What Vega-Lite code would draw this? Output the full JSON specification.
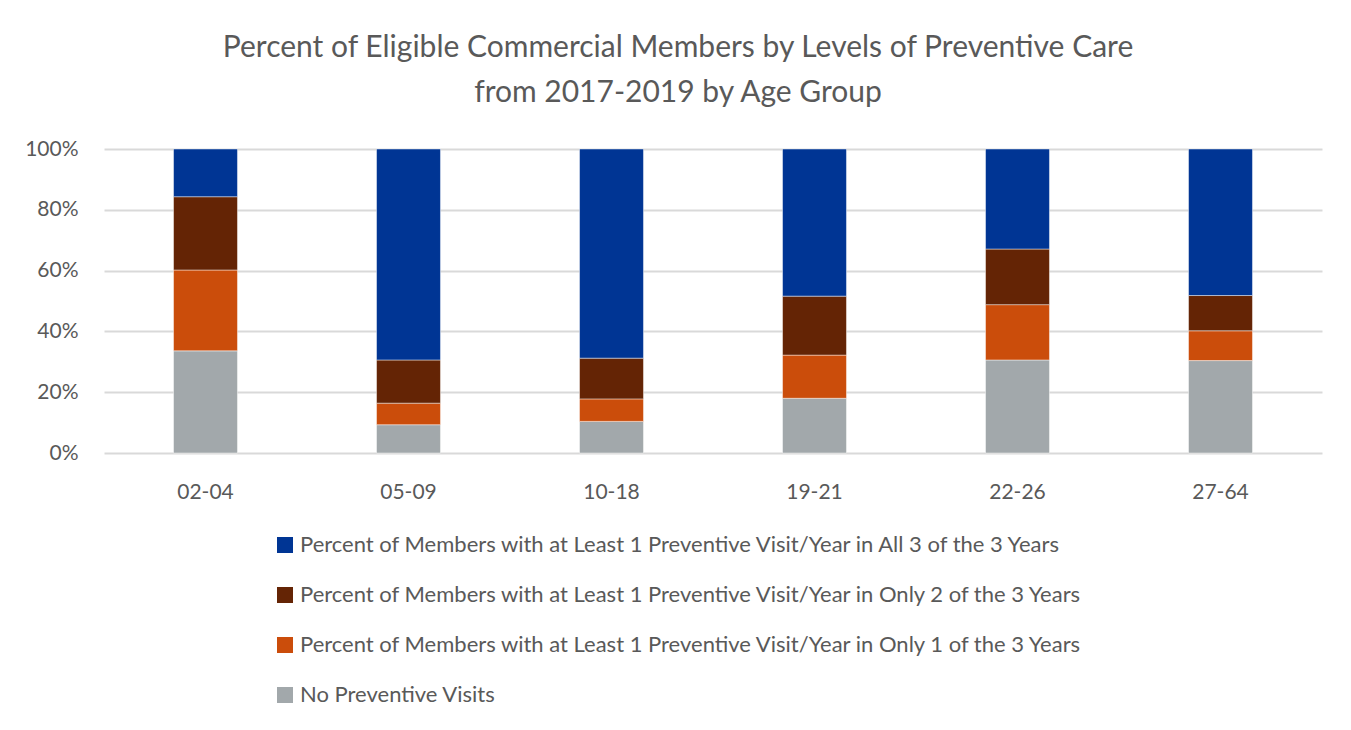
{
  "$schema": "https://vega.github.io/schema/vega-lite/v6.json",
  "width": 1218,
  "height": 304,
  "autosize": "none",
  "padding": {"left": 104, "top": 149, "right": 29, "bottom": 277},
  "background": "white",
  "title": {
    "text": ["Percent of Eligible Commercial Members by Levels of Preventive Care", "from 2017-2019 by Age Group"],
    "font": "Lato",
    "fontSize": 30,
    "fontWeight": "normal",
    "color": "#595959",
    "lineHeight": 45,
    "offset": 30,
    "dx": -35
  },
  "data": {
    "values": [
      {"age": "02-04", "level": "No Preventive Visits", "rank": 1, "pct": 0.336},
      {"age": "02-04", "level": "Percent of Members with at Least 1 Preventive Visit/Year in Only 1 of the 3 Years", "rank": 2, "pct": 0.266},
      {"age": "02-04", "level": "Percent of Members with at Least 1 Preventive Visit/Year in Only 2 of the 3 Years", "rank": 3, "pct": 0.241},
      {"age": "02-04", "level": "Percent of Members with at Least 1 Preventive Visit/Year in All 3 of the 3 Years", "rank": 4, "pct": 0.157},
      {"age": "05-09", "level": "No Preventive Visits", "rank": 1, "pct": 0.093},
      {"age": "05-09", "level": "Percent of Members with at Least 1 Preventive Visit/Year in Only 1 of the 3 Years", "rank": 2, "pct": 0.071},
      {"age": "05-09", "level": "Percent of Members with at Least 1 Preventive Visit/Year in Only 2 of the 3 Years", "rank": 3, "pct": 0.142},
      {"age": "05-09", "level": "Percent of Members with at Least 1 Preventive Visit/Year in All 3 of the 3 Years", "rank": 4, "pct": 0.694},
      {"age": "10-18", "level": "No Preventive Visits", "rank": 1, "pct": 0.104},
      {"age": "10-18", "level": "Percent of Members with at Least 1 Preventive Visit/Year in Only 1 of the 3 Years", "rank": 2, "pct": 0.074},
      {"age": "10-18", "level": "Percent of Members with at Least 1 Preventive Visit/Year in Only 2 of the 3 Years", "rank": 3, "pct": 0.134},
      {"age": "10-18", "level": "Percent of Members with at Least 1 Preventive Visit/Year in All 3 of the 3 Years", "rank": 4, "pct": 0.688},
      {"age": "19-21", "level": "No Preventive Visits", "rank": 1, "pct": 0.180},
      {"age": "19-21", "level": "Percent of Members with at Least 1 Preventive Visit/Year in Only 1 of the 3 Years", "rank": 2, "pct": 0.142},
      {"age": "19-21", "level": "Percent of Members with at Least 1 Preventive Visit/Year in Only 2 of the 3 Years", "rank": 3, "pct": 0.194},
      {"age": "19-21", "level": "Percent of Members with at Least 1 Preventive Visit/Year in All 3 of the 3 Years", "rank": 4, "pct": 0.484},
      {"age": "22-26", "level": "No Preventive Visits", "rank": 1, "pct": 0.306},
      {"age": "22-26", "level": "Percent of Members with at Least 1 Preventive Visit/Year in Only 1 of the 3 Years", "rank": 2, "pct": 0.182},
      {"age": "22-26", "level": "Percent of Members with at Least 1 Preventive Visit/Year in Only 2 of the 3 Years", "rank": 3, "pct": 0.183},
      {"age": "22-26", "level": "Percent of Members with at Least 1 Preventive Visit/Year in All 3 of the 3 Years", "rank": 4, "pct": 0.329},
      {"age": "27-64", "level": "No Preventive Visits", "rank": 1, "pct": 0.304},
      {"age": "27-64", "level": "Percent of Members with at Least 1 Preventive Visit/Year in Only 1 of the 3 Years", "rank": 2, "pct": 0.098},
      {"age": "27-64", "level": "Percent of Members with at Least 1 Preventive Visit/Year in Only 2 of the 3 Years", "rank": 3, "pct": 0.116},
      {"age": "27-64", "level": "Percent of Members with at Least 1 Preventive Visit/Year in All 3 of the 3 Years", "rank": 4, "pct": 0.482}
    ]
  },
  "mark": {"type": "bar", "stroke": "#ffffff", "strokeOpacity": 0.45, "strokeWidth": 1},
  "encoding": {
    "x": {
      "field": "age",
      "type": "nominal",
      "sort": null,
      "title": null,
      "scale": {"paddingInner": 0.685, "paddingOuter": 0.3425},
      "axis": {"labelAngle": 0, "domain": false, "ticks": false, "labelPadding": 28, "labelFontSize": 21, "labelFont": "Lato", "labelColor": "#595959"}
    },
    "y": {
      "field": "pct",
      "type": "quantitative",
      "stack": "zero",
      "title": null,
      "scale": {"domain": [0, 1], "nice": false},
      "axis": {"format": ".0%", "values": [0, 0.2, 0.4, 0.6, 0.8, 1], "domain": false, "ticks": false, "labelPadding": 26, "labelFontSize": 21, "labelFont": "Lato", "labelColor": "#595959", "grid": true, "gridColor": "#d9d9d9", "gridWidth": 2}
    },
    "color": {
      "field": "level",
      "type": "nominal",
      "scale": {
        "domain": [
          "Percent of Members with at Least 1 Preventive Visit/Year in All 3 of the 3 Years",
          "Percent of Members with at Least 1 Preventive Visit/Year in Only 2 of the 3 Years",
          "Percent of Members with at Least 1 Preventive Visit/Year in Only 1 of the 3 Years",
          "No Preventive Visits"
        ],
        "range": ["#003594", "#642405", "#CB4D0B", "#A2A8AB"]
      },
      "legend": {
        "title": null,
        "orient": "none",
        "legendX": 170,
        "legendY": 385,
        "direction": "vertical",
        "symbolType": "square",
        "symbolSize": 256,
        "symbolStrokeWidth": 0,
        "labelFontSize": 22,
        "labelFont": "Lato",
        "labelColor": "#595959",
        "labelLimit": 1000,
        "rowPadding": 28,
        "labelOffset": 4
      }
    },
    "order": {"field": "rank", "type": "quantitative", "sort": "ascending"}
  },
  "config": {"view": {"stroke": null}}
}
